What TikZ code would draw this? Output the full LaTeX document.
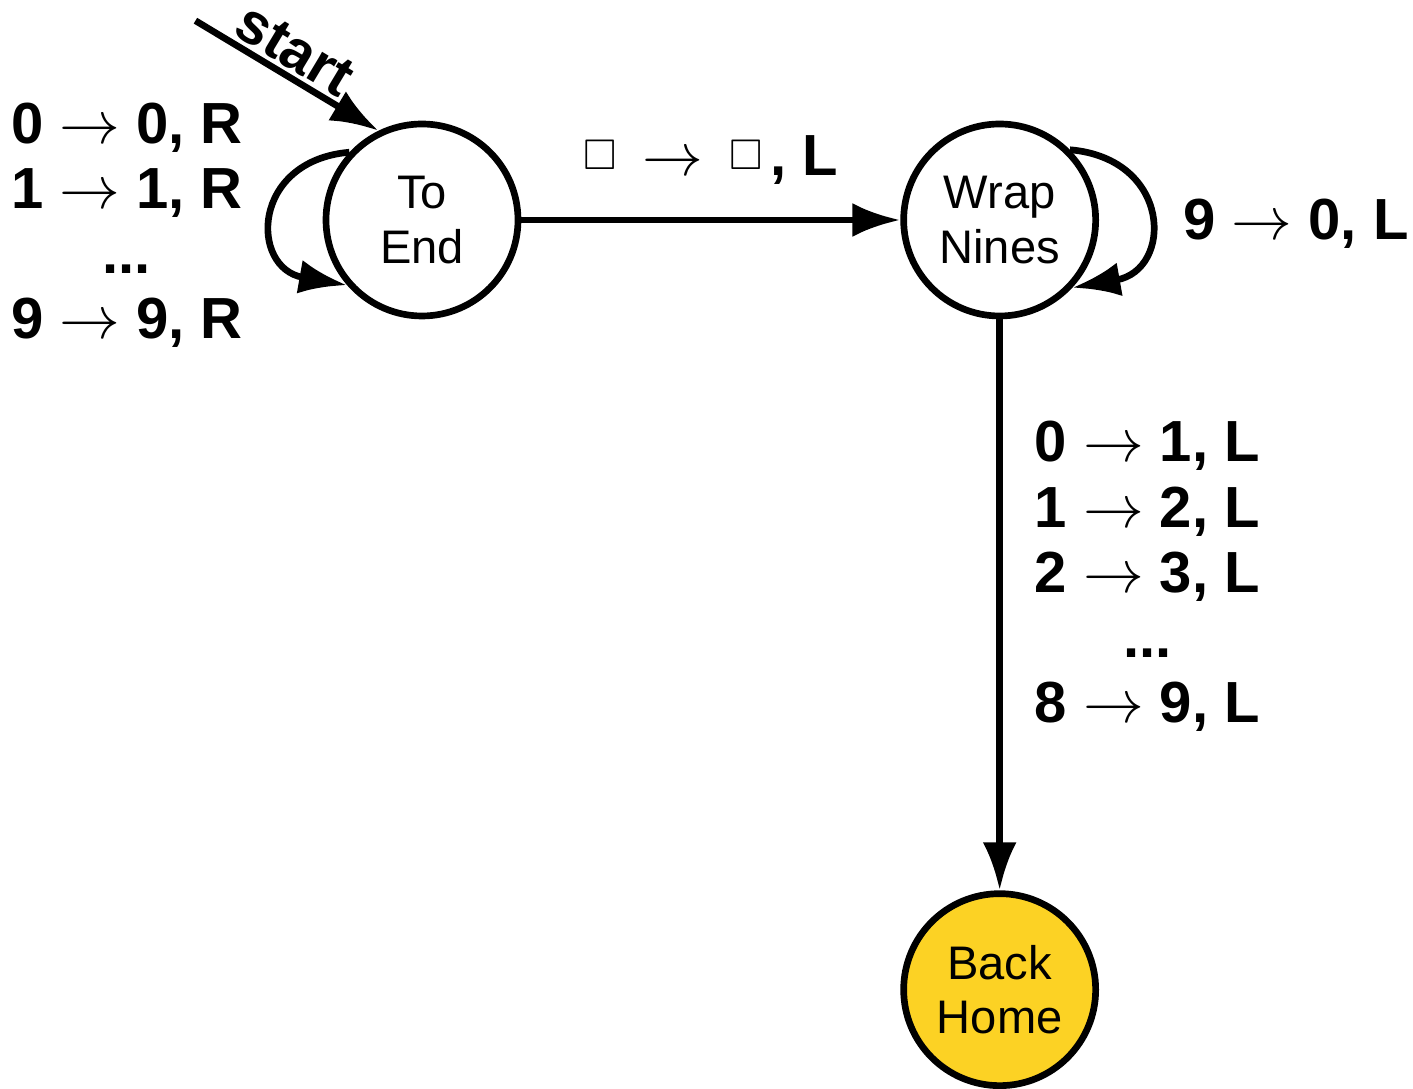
\documentclass[tikz,border=0pt]{standalone}
\usepackage{fontspec}
\usepackage{amssymb}
\setmainfont{Liberation Sans}
\usetikzlibrary{positioning, arrows.meta}

\definecolor{homeyellow}{RGB}{252,210,36}
\newcommand{\blanksym}{\raisebox{1.8pt}{\fontsize{12.2}{12}\selectfont$\square$}}

\begin{document}
\begin{tikzpicture}[node distance=2cm,>={Latex[length=4.8mm,width=3.4mm]},line width=1.9pt,
    state/.style={draw, circle, minimum size=1.92cm, inner sep=0pt, align=center, font=\fontsize{13.4}{15.5}\selectfont},
    trans/.style={font=\fontsize{16.5}{18.5}\selectfont\bfseries, align=center}]
        \useasboundingbox (0,0) rectangle (14.13,-10.89);
        % States
        \node (toend) [state] at (4.22,-2.20) {To\\End};
        \node (wrap) [state, right=3.79cm of toend] {Wrap\\Nines};
        \node (home) [state, fill=homeyellow, below=5.71cm of wrap] {Back\\Home};
        \coordinate [above left=1.10cm and 1.83cm of toend.116] (init);

        % Transitions
        \draw[->] (init) -- node[sloped, above, inner sep=1pt, pos=0.47, trans] {start} (toend.116);
        \draw[->] (toend.137) to[out=185, in=170, looseness=1.9] node[left=0.17cm, yshift=-0.1cm, trans] {0 $\rightarrow$ 0, R\\1 $\rightarrow$ 1, R\\...\\9 $\rightarrow$ 9, R} (toend.221);
        \draw[->] (toend) -- node[above=0.2cm, trans] {\blanksym\hspace{0.26cm}$\rightarrow$\hspace{0.26cm}\blanksym\hspace{0.08cm}, L} (wrap);
        \draw[->] (wrap.45) to[out=-5, in=10, looseness=1.9] node[right=0.21cm, yshift=-0.08cm, trans] {9 $\rightarrow$ 0, L} (wrap.-43);
        \draw[->] (wrap) -- node[right=0.2cm, pos=0.45, trans] {0 $\rightarrow$ 1, L\\1 $\rightarrow$ 2, L\\2 $\rightarrow$ 3, L\\...\\8 $\rightarrow$ 9, L} (home);

    \end{tikzpicture}
\end{document}
